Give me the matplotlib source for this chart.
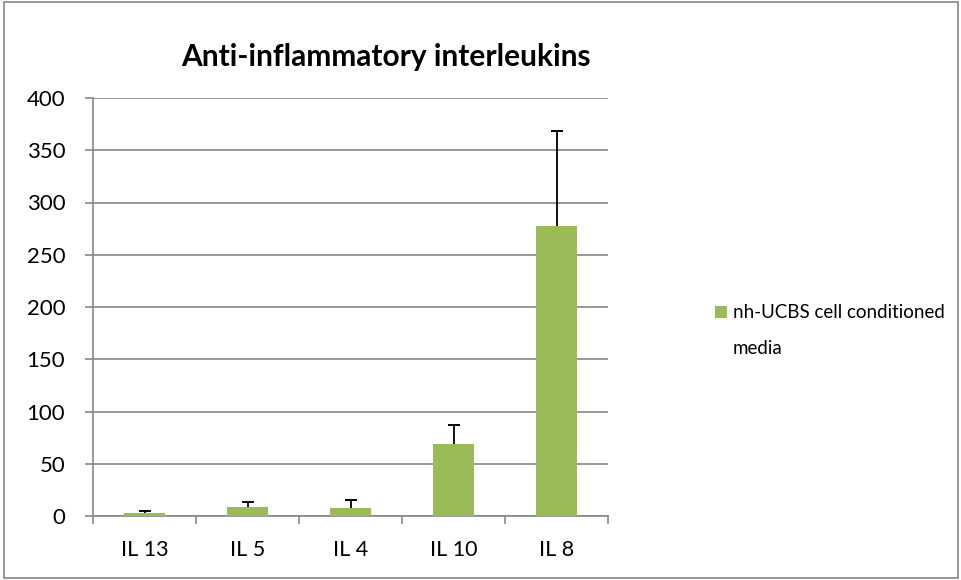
import matplotlib
matplotlib.use("Agg")
import matplotlib.pyplot as plt
from matplotlib.patches import Rectangle

categories = ["IL 13", "IL 5", "IL 4", "IL 10", "IL 8"]
values = [3.2, 8.6, 7.9, 68.5, 277.4]
errors = [1.6, 4.5, 7.7, 18.8, 90.7]
legend_lines = ["nh-UCBS cell conditioned", "media"]
yticks = [0, 50, 100, 150, 200, 250, 300, 350, 400]

plt.rcParams['font.family'] = ['Lato', 'DejaVu Sans']

fig = plt.figure(figsize=(9.61, 5.80), dpi=100)
fig.patches.append(Rectangle((0.004, 0.004), 0.993, 0.992, transform=fig.transFigure,
                             fill=False, edgecolor='#878787', linewidth=1.2))
ax = fig.add_axes([93/961, 1-516/580, (608-93)/961, (516-98)/580])

x = list(range(len(categories)))
ax.bar(x, values, width=0.4, color='#9BBB59', zorder=3, label=legend_lines[0])
tops = [v + e for v, e in zip(values, errors)]
ax.vlines(x, values, tops, colors='black', linewidth=1.3, zorder=4)
ax.plot(x, tops, linestyle='none', marker='_', markersize=9, markeredgewidth=1.4,
        color='black', zorder=4)

ax.set_xlim(-0.5, len(categories) - 0.5)
ax.set_ylim(0, 400)
ax.set_yticks(yticks)
ax.set_yticklabels([str(v) for v in yticks], fontsize=16)
ax.set_xticks(x)
ax.set_xticklabels(categories, fontsize=15.5)
ax.tick_params(axis='x', length=0, pad=17)
ax.tick_params(axis='y', length=6, width=1.2, color='#878787', pad=14)
for b in [i + 0.5 for i in range(-1, len(categories))]:
    ax.plot([b, b], [0, -0.016], transform=ax.get_xaxis_transform(), color='#878787',
            linewidth=1.2, clip_on=False)

ax.grid(axis='y', color='#878787', linewidth=1.2, zorder=0)
for s in ['top', 'right']:
    ax.spines[s].set_visible(False)
for s in ['left', 'bottom']:
    ax.spines[s].set_color('#878787')
    ax.spines[s].set_linewidth(1.2)

fig.text(386/961, 1-57/580, "Anti-inflammatory interleukins", fontsize=21.5,
         fontweight='bold', ha='center', va='center')

leg = ax.legend(loc='center left', bbox_to_anchor=(715/961, 1-313/580),
                bbox_transform=fig.transFigure, frameon=False, fontsize=13.5,
                handlelength=0.65, handleheight=0.65, handletextpad=0.3,
                borderpad=0, borderaxespad=0)
fig.canvas.draw()
tb = leg.get_texts()[0].get_window_extent()
fig.text(tb.x0 / fig.bbox.width, (tb.y0 - 36) / fig.bbox.height, legend_lines[1],
         fontsize=13.5, ha='left', va='bottom')

fig.savefig("out.png", dpi=100)
